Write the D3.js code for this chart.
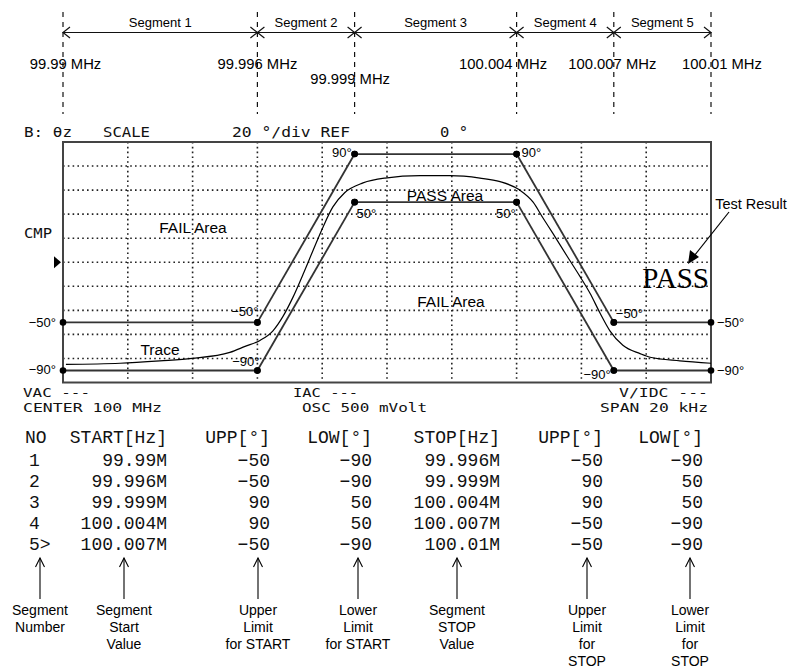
<!DOCTYPE html>
<html><head><meta charset="utf-8">
<script src="https://cdn.jsdelivr.net/npm/d3@7"></script>
<style>body{margin:0;background:#fff}svg{display:block}</style>
</head><body><svg id="c" width="789" height="672"></svg>
<script>
// ---------------- DATA ----------------
const segNo = ["1", "2", "3", "4", "5>"];
const segStart = [99.99, 99.996, 99.999, 100.004, 100.007];
const segStop = [99.996, 99.999, 100.004, 100.007, 100.01];
const uppStart = [-50, -50, 90, 90, -50];
const lowStart = [-90, -90, 50, 50, -90];
const uppStop = [-50, 90, 90, -50, -50];
const lowStop = [-90, 50, 50, -90, -90];
const startText = ["99.99M", "99.996M", "99.999M", "100.004M", "100.007M"];
const stopText = ["99.996M", "99.999M", "100.004M", "100.007M", "100.01M"];
const segmentNames = ["Segment 1", "Segment 2", "Segment 3", "Segment 4", "Segment 5"];
const boundaryFreq = [99.99, 99.996, 99.999, 100.004, 100.007, 100.01];
const boundaryLabels = ["99.99 MHz", "99.996 MHz", "99.999 MHz", "100.004 MHz", "100.007 MHz", "100.01 MHz"];
const freqDomain = [99.99, 100.01];
const phaseDomain = [-100, 100];
const traceFreq = [99.99009, 99.99176, 99.99299, 99.99398, 99.99515, 99.99562, 99.99608, 99.99648,
  99.99679, 99.99710, 99.99741, 99.99772, 99.99802, 99.99833, 99.99870, 99.99926, 99.99994,
  100.00102, 100.00194, 100.00287, 100.00349, 100.00410, 100.00451, 100.00481, 100.00512,
  100.00556, 100.00596, 100.00627, 100.00657, 100.00688, 100.00728, 100.00781, 100.00812,
  100.00904, 100.01];
const tracePhase = [-85, -84, -82, -80, -75, -70, -65, -57,
  -45, -29, -10, 10, 29, 46, 58, 66, 70,
  72, 72, 70, 67, 60, 50, 37, 24,
  5, -12, -26, -42, -57, -69, -76, -79,
  -82, -84];
const tableHeaders = ["NO", "START[Hz]", "UPP[°]", "LOW[°]", "STOP[Hz]", "UPP[°]", "LOW[°]"];
const annotations = [["Segment", "Number"], ["Segment", "Start", "Value"], ["Upper", "Limit", "for START"],
  ["Lower", "Limit", "for START"], ["Segment", "STOP", "Value"], ["Upper", "Limit", "for", "STOP"],
  ["Lower", "Limit", "for", "STOP"]];

// ---------------- LAYOUT ----------------
const svg = d3.select("#c");
svg.append("rect").attr("width", 789).attr("height", 672).attr("fill", "#fff");
const x = d3.scaleLinear().domain(freqDomain).range([63, 711]);
const y = d3.scaleLinear().domain(phaseDomain).range([382.5, 142]);
const SANS = "Liberation Sans, Arial, sans-serif";
const MONO = "DejaVu Sans Mono, monospace";
const TMONO = "Liberation Mono, monospace";
const minus = v => String(v).replace("-", "\u2212");

// ---- top segment diagram ----
const topG = svg.append("g");
boundaryFreq.forEach(f => {
  topG.append("line").attr("x1", x(f)).attr("x2", x(f)).attr("y1", 12).attr("y2", 114)
    .attr("stroke", "#111").attr("stroke-width", 1.2).attr("stroke-dasharray", "5,5");
});
topG.append("line").attr("x1", x(freqDomain[0])).attr("x2", x(freqDomain[1])).attr("y1", 32.5).attr("y2", 32.5)
  .attr("stroke", "#111").attr("stroke-width", 1.2);
boundaryFreq.forEach((f, i) => {
  const bx = x(f);
  if (i > 0) topG.append("path").attr("d", `M${bx-7},27L${bx},32.5L${bx-7},38`).attr("fill", "none").attr("stroke", "#111").attr("stroke-width", 1.2);
  if (i < boundaryFreq.length - 1) topG.append("path").attr("d", `M${bx+7},27L${bx},32.5L${bx+7},38`).attr("fill", "none").attr("stroke", "#111").attr("stroke-width", 1.2);
});
segmentNames.forEach((s, i) => {
  topG.append("text").attr("x", (x(segStart[i]) + x(segStop[i])) / 2).attr("y", 27)
    .attr("text-anchor", "middle").attr("font-family", SANS).attr("font-size", 13).text(s);
});
const lblDx = [2.5, 0, -4.5, -13.5, -1.5, 11];
const lblY = [68.5, 68.5, 84, 68.5, 68.5, 68.5];
boundaryLabels.forEach((s, i) => {
  topG.append("text").attr("x", x(boundaryFreq[i]) + lblDx[i]).attr("y", lblY[i])
    .attr("text-anchor", "middle").attr("font-family", SANS).attr("font-size", 14.8).attr("fill", "#000").text(s);
});

// ---- mono labels ----
function mono(t, x0, x1, yb, size) {
  svg.append("text").attr("x", x0).attr("y", yb).attr("font-family", MONO).attr("font-size", size || 14.5)
    .attr("textLength", x1 - x0).attr("lengthAdjust", "spacingAndGlyphs").attr("fill", "#111").text(t);
}
mono("B: θz", 24, 72, 137);
mono("SCALE", 103, 150, 137);
mono("20 °/div REF", 232, 350, 137);
mono("0 °", 440, 468, 137);
mono("CMP", 24, 52, 238);
mono("VAC ---", 23, 90, 396.5, 13);
mono("CENTER 100 MHz", 23, 162, 412, 13);
mono("IAC ---", 293, 358, 396.5, 13);
mono("OSC 500 mVolt", 302, 427, 412, 13);
mono("V/IDC ---", 619, 708, 396.5, 13);
mono("SPAN 20 kHz", 600, 708, 412, 13);
// ref marker
svg.append("path").attr("d", `M54,${y(0)-6}L61,${y(0)}L54,${y(0)+6}Z`).attr("fill", "#000");

// ---- chart ----
const ch = svg.append("g");
const xt = x.ticks(10).filter(t => t > freqDomain[0] + 1e-9 && t < freqDomain[1] - 1e-9);
const yt = y.ticks(10).filter(t => t > phaseDomain[0] && t < phaseDomain[1]);
ch.selectAll(".vg").data(xt).enter().append("line")
  .attr("x1", d => x(d)).attr("x2", d => x(d)).attr("y1", y(100)).attr("y2", y(-100))
  .attr("stroke", "#222").attr("stroke-width", 1.6).attr("stroke-dasharray", "1.6,3.2");
ch.selectAll(".hg").data(yt).enter().append("line")
  .attr("x1", x(freqDomain[0])).attr("x2", x(freqDomain[1])).attr("y1", d => y(d)).attr("y2", d => y(d))
  .attr("stroke", "#222").attr("stroke-width", 1.6).attr("stroke-dasharray", "1.6,3.2");
ch.append("rect").attr("x", x(freqDomain[0])).attr("y", y(100))
  .attr("width", x(freqDomain[1]) - x(freqDomain[0])).attr("height", y(-100) - y(100))
  .attr("fill", "none").attr("stroke", "#444").attr("stroke-width", 2);

// limit lines
const segIdx = d3.range(segStart.length);
[[uppStart, uppStop], [lowStart, lowStop]].forEach(([a, b]) => {
  ch.selectAll(null).data(segIdx).enter().append("line")
    .attr("x1", i => x(segStart[i])).attr("x2", i => x(segStop[i]))
    .attr("y1", i => y(a[i])).attr("y2", i => y(b[i]))
    .attr("stroke", "#333").attr("stroke-width", 1.8);
});
// trace
const tr = traceFreq.map((f, i) => [f, tracePhase[i]]);
ch.append("path").datum(tr).attr("fill", "none").attr("stroke", "#000").attr("stroke-width", 1.2)
  .attr("d", d3.line().x(d => x(d[0])).y(d => y(d[1])).curve(d3.curveMonotoneX));
// dots
const pts = [];
segIdx.forEach(i => { pts.push([segStart[i], uppStart[i]], [segStart[i], lowStart[i]], [segStop[i], uppStop[i]], [segStop[i], lowStop[i]]); });
ch.selectAll(null).data(pts).enter().append("circle")
  .attr("cx", d => x(d[0])).attr("cy", d => y(d[1])).attr("r", 3.3).attr("fill", "#000");

// limit value labels
function deg(v, px, py, anchor, dx, dy) {
  ch.append("text").attr("x", x(px) + dx).attr("y", y(py) + dy).attr("text-anchor", anchor)
    .attr("font-family", SANS).attr("font-size", 13).attr("fill", "#000").text(minus(v) + "°");
}
deg(uppStart[2], segStart[2], uppStart[2], "end", -3, 3);
deg(uppStop[2], segStop[2], uppStop[2], "start", 5, 3);
deg(lowStart[2], segStart[2], lowStart[2], "start", 2, 16);
deg(lowStop[2], segStop[2], lowStop[2], "end", -1, 16);
deg(uppStop[0], segStop[0], uppStop[0], "end", 1, -6);
deg(lowStop[0], segStop[0], lowStop[0], "end", 2, -4);
deg(uppStart[4], segStart[4], uppStart[4], "start", 2, -4);
deg(lowStart[4], segStart[4], lowStart[4], "end", -3, 9);
deg(uppStart[0], segStart[0], uppStart[0], "end", -7, 4.5);
deg(lowStart[0], segStart[0], lowStart[0], "end", -7, 3.5);
deg(uppStop[4], segStop[4], uppStop[4], "start", 6, 4.5);
deg(lowStop[4], segStop[4], lowStop[4], "start", 6, 4.5);

function note(t, cx, yb, size) {
  ch.append("text").attr("x", cx).attr("y", yb).attr("text-anchor", "middle")
    .attr("font-family", SANS).attr("font-size", size).attr("fill", "#000").text(t);
}
note("FAIL Area", 193, 233, 15.5);
note("PASS Area", 445, 201, 15.5);
note("FAIL Area", 451, 307, 15.5);
note("Trace", 160, 355, 15.5);
note("Test Result", 751, 209, 14.5);
svg.append("text").attr("x", 709).attr("y", 288).attr("text-anchor", "end")
  .attr("font-family", "Liberation Serif, Times New Roman, serif").attr("font-size", 29).text("PASS");
svg.append("line").attr("x1", 729).attr("y1", 212).attr("x2", 694).attr("y2", 256).attr("stroke", "#000").attr("stroke-width", 1.2);
svg.append("path").attr("d", "M688,264L690,250L699,257Z").attr("fill", "#000");

// ---- table ----
const tb = svg.append("g").attr("font-family", TMONO).attr("font-size", 18).attr("fill", "#111");
const colRight = [null, 167, 270, 372, 500, 603, 703];
const rowY0 = 442.5, rowStep = 21;
tableHeaders.forEach((h, j) => {
  tb.append("text").attr("x", j === 0 ? 25 : colRight[j]).attr("y", rowY0)
    .attr("text-anchor", j === 0 ? "start" : "end").text(h);
});
segIdx.forEach(i => {
  const cells = [segNo[i], startText[i], minus(uppStart[i]), minus(lowStart[i]), stopText[i], minus(uppStop[i]), minus(lowStop[i])];
  cells.forEach((c, j) => {
    tb.append("text").attr("x", j === 0 ? 29 : colRight[j]).attr("y", rowY0 + (i + 1) * rowStep + 2)
      .attr("text-anchor", j === 0 ? "start" : "end").text(c);
  });
});

// ---- annotations ----
const annX = [40, 124, 258, 358, 457, 587, 690];
annotations.forEach((lines, j) => {
  const ax = annX[j];
  svg.append("line").attr("x1", ax).attr("x2", ax).attr("y1", 558).attr("y2", 599).attr("stroke", "#000").attr("stroke-width", 1.1);
  svg.append("path").attr("d", `M${ax-4.5},567L${ax},558L${ax+4.5},567`).attr("fill", "none").attr("stroke", "#000").attr("stroke-width", 1.1);
  lines.forEach((l, k) => {
    svg.append("text").attr("x", ax).attr("y", 615 + k * 17).attr("text-anchor", "middle")
      .attr("font-family", SANS).attr("font-size", 14).attr("fill", "#000").text(l);
  });
});
</script></body></html>
